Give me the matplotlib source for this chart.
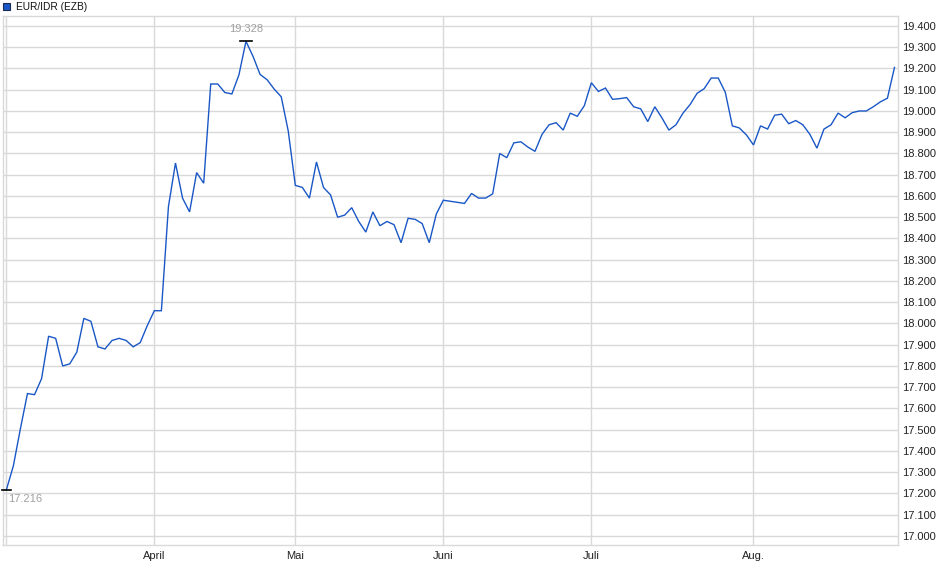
import matplotlib
matplotlib.use("Agg")
import matplotlib.pyplot as plt
import pandas as pd
import numpy as np

plt.rcParams['font.family'] = ['Liberation Sans', 'DejaVu Sans']

# ECB fixing days (weekdays without TARGET holidays)
start_date = "2025-03-03"
end_date = "2025-08-29"
holidays = ["2025-04-18", "2025-04-21", "2025-05-01"]

vals_mar = [17.216, 17.33, 17.505, 17.67, 17.665, 17.74, 17.94, 17.93, 17.80, 17.81,
            17.865, 18.024, 18.01, 17.89, 17.88, 17.92, 17.93, 17.92, 17.89, 17.91, 17.99]
vals_apr = [18.06, 18.06, 18.55, 18.755, 18.59, 18.525, 18.71, 18.66, 19.127, 19.127,
            19.087, 19.08, 19.17, 19.328, 19.257, 19.172, 19.147, 19.103, 19.067, 18.905]
vals_may = [18.65, 18.64, 18.59, 18.76, 18.64, 18.605, 18.50, 18.51, 18.545, 18.48,
            18.43, 18.525, 18.46, 18.48, 18.465, 18.38, 18.495, 18.49, 18.47, 18.38, 18.515]
vals_jun = [18.58, 18.575, 18.57, 18.565, 18.612, 18.59, 18.59, 18.61, 18.80, 18.78,
            18.85, 18.855, 18.83, 18.81, 18.89, 18.935, 18.945, 18.91, 18.99, 18.975, 19.025]
vals_jul = [19.133, 19.092, 19.108, 19.055, 19.058, 19.063, 19.02, 19.01, 18.95, 19.02,
            18.968, 18.91, 18.935, 18.99, 19.03, 19.083, 19.105, 19.155, 19.155, 19.088,
            18.93, 18.92, 18.887]
vals_aug = [18.84, 18.93, 18.915, 18.98, 18.985, 18.94, 18.955, 18.935, 18.89, 18.825,
            18.915, 18.935, 18.99, 18.968, 18.992, 19.0, 19.0, 19.02, 19.043, 19.06, 19.205]

month_labels = ["", "April", "Mai", "Juni", "Juli", "Aug."]
y_ticks = [17.0 + 0.1 * k for k in range(25)]
series_name = "EUR/IDR (EZB)"

values = vals_mar + vals_apr + vals_may + vals_jun + vals_jul + vals_aug
dates = pd.bdate_range(start_date, end_date)
dates = dates[~dates.isin(pd.to_datetime(holidays))]
assert len(dates) == len(values)
idx = np.arange(len(values))

# first index of every month
months = dates.to_period("M")
month_starts = [int(np.where(months == m)[0][0]) for m in months.unique()]

W, H = 940, 579
fig = plt.figure(figsize=(W / 100, H / 100), dpi=100)
ax = fig.add_axes([3 / W, (H - 545.3) / H, (898 - 3) / W, (545.3 - 16) / H])

line_color = "#1a57c6"
grid_color = "#d9d9d9"

ax.plot(idx, values, color=line_color, lw=1.0, zorder=3, solid_joinstyle="miter")

ax.set_xlim(-0.47, 126.5)
ax.set_ylim(16.956, 19.447)

ax.set_xticks(month_starts)
ax.set_xticklabels(month_labels[:len(month_starts)])
ax.set_yticks(y_ticks)
ax.set_yticklabels([f"{t:.3f}" for t in y_ticks])
ax.yaxis.tick_right()
ax.tick_params(axis="both", length=0, labelsize=8, colors="#222222")
ax.tick_params(axis="y", pad=3)
ax.tick_params(axis="x", pad=4)
ax.grid(True, color=grid_color, lw=1.0, zorder=0)
for sp in ax.spines.values():
    sp.set_color(grid_color)
    sp.set_linewidth(1.0)

# max / min markers
imax = int(np.argmax(values))
imin = int(np.argmin(values))
ax.plot([imax - 0.8, imax + 0.8], [values[imax]] * 2, color="black", lw=1.2, zorder=4)
ax.plot([imin - 0.6, imin + 0.6], [values[imin]] * 2, color="black", lw=1.2, zorder=4,
        clip_on=False)
ax.annotate(f"{values[imax]:.3f}", (imax, values[imax]), xytext=(0, 5),
            textcoords="offset points", ha="center", va="bottom", fontsize=8,
            color="#a0a0a0")
ax.annotate(f"{values[imin]:.3f}", (imin, values[imin]), xytext=(1, -3),
            textcoords="offset points", ha="left", va="top", fontsize=8,
            color="#a0a0a0")

# legend
fig.patches.append(plt.Rectangle((3 / W, 1 - 10 / H), 7 / W, 7 / H,
                                 transform=fig.transFigure, facecolor=line_color,
                                 edgecolor="#1a2a55", lw=0.8))
fig.text(15.5 / W, 1 - 6.5 / H, series_name, fontsize=7.3, color="#111111",
         ha="left", va="center")

fig.savefig("out.png", dpi=100)
